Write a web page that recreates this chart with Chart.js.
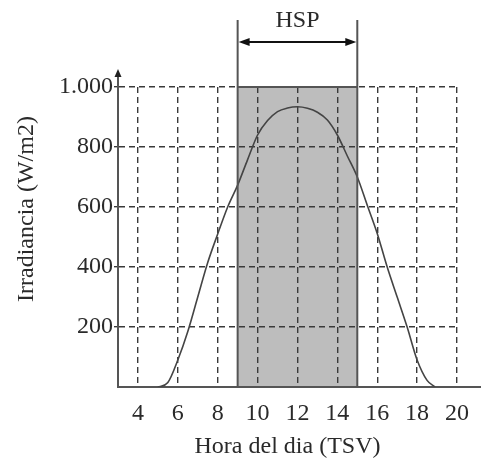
<!DOCTYPE html>
<html><head><meta charset="utf-8">
<script src="https://cdn.jsdelivr.net/npm/chart.js@4"></script>
<style>html,body{margin:0;padding:0;background:#fff}#wrap{width:481px;height:462px}</style>
</head><body><div id="wrap"><canvas id="c" width="481" height="462"></canvas></div>
<script>
const hours = [5, 5.5, 6, 6.5, 7, 7.5, 8, 8.5, 9, 9.5, 10, 10.5, 11, 11.5, 12, 12.5, 13, 13.5, 14, 14.5, 15, 15.5, 16, 16.5, 17, 17.5, 18, 18.5, 18.9];
const irradiance = [0, 15, 90, 185, 300, 415, 510, 600, 673, 758, 840, 888, 918, 930, 934, 929, 916, 890, 840, 770, 700, 606, 512, 400, 300, 200, 90, 22, 0];
const xTicks = [4, 6, 8, 10, 12, 14, 16, 18, 20];
const yTicks = [200, 400, 600, 800, 1000];
const yTickLabels = ['200', '400', '600', '800', '1.000'];
const hspRange = [9, 15];
const hspLabel = 'HSP';
const xTitle = 'Hora del dia (TSV)';
const yTitle = 'Irradiancia (W/m2)';

const FONT = {family: '"Liberation Serif", "Times New Roman", serif', size: 24};
const TXT = '#2a2a2a';
const GRID = '#3a3a3a';
const AXIS = '#555';

const decor = {
  id: 'decor',
  beforeDraw(chart) {
    const {ctx, scales: {x, y}} = chart;
    const x1 = x.getPixelForValue(hspRange[0]), x2 = x.getPixelForValue(hspRange[1]);
    const yt = y.getPixelForValue(1000), yb = y.getPixelForValue(0);
    ctx.save();
    ctx.fillStyle = '#fff';
    ctx.fillRect(0, 0, chart.width, chart.height);
    ctx.fillStyle = '#bdbdbd';
    ctx.fillRect(x1, yt, x2 - x1, yb - yt);
    ctx.restore();
  },
  afterDraw(chart) {
    const {ctx, chartArea, scales: {x, y}} = chart;
    const x1 = x.getPixelForValue(hspRange[0]), x2 = x.getPixelForValue(hspRange[1]);
    const yt = y.getPixelForValue(1000), yb = y.getPixelForValue(0);
    ctx.save();
    // box outline and extension lines
    ctx.strokeStyle = '#555';
    ctx.lineWidth = 2;
    ctx.beginPath();
    ctx.moveTo(x1, yt - 67); ctx.lineTo(x1, yb);
    ctx.moveTo(x2, yt - 67); ctx.lineTo(x2, yb);
    ctx.moveTo(x1, yt); ctx.lineTo(x2, yt);
    ctx.stroke();
    // double arrow
    const ay = yt - 45;
    ctx.strokeStyle = '#111'; ctx.fillStyle = '#111'; ctx.lineWidth = 2;
    ctx.beginPath(); ctx.moveTo(x1 + 8, ay); ctx.lineTo(x2 - 8, ay); ctx.stroke();
    ctx.beginPath(); ctx.moveTo(x1 + 1, ay); ctx.lineTo(x1 + 12, ay - 4); ctx.lineTo(x1 + 12, ay + 4); ctx.closePath(); ctx.fill();
    ctx.beginPath(); ctx.moveTo(x2 - 1, ay); ctx.lineTo(x2 - 12, ay - 4); ctx.lineTo(x2 - 12, ay + 4); ctx.closePath(); ctx.fill();
    // HSP label
    ctx.font = `${FONT.size}px ${FONT.family}`;
    ctx.fillStyle = TXT; ctx.textAlign = 'center'; ctx.textBaseline = 'alphabetic';
    ctx.fillText(hspLabel, (x1 + x2) / 2, yt - 60);
    // y axis title
    ctx.save();
    ctx.translate(33, (yt + yb) / 2 - 28);
    ctx.rotate(-Math.PI / 2);
    ctx.textAlign = 'center'; ctx.textBaseline = 'alphabetic';
    ctx.fillText(yTitle, 0, 0);
    ctx.restore();
    // axis extensions + arrow on y axis
    ctx.strokeStyle = AXIS; ctx.lineWidth = 2;
    ctx.beginPath();
    ctx.moveTo(chartArea.left, yt); ctx.lineTo(chartArea.left, yt - 14);
    ctx.moveTo(chartArea.right, yb); ctx.lineTo(chart.width, yb);
    ctx.stroke();
    ctx.fillStyle = '#222';
    ctx.beginPath();
    ctx.moveTo(chartArea.left, yt - 18);
    ctx.lineTo(chartArea.left - 3.5, yt - 10);
    ctx.lineTo(chartArea.left + 3.5, yt - 10);
    ctx.closePath(); ctx.fill();
    ctx.restore();
  }
};

new Chart(document.getElementById('c'), {
  type: 'line',
  data: {
    datasets: [{
      data: hours.map((h, i) => ({x: h, y: irradiance[i]})),
      borderColor: '#444',
      borderWidth: 1.6,
      pointRadius: 0,
      fill: false,
      tension: 0.4,
      cubicInterpolationMode: 'monotone'
    }]
  },
  options: {
    responsive: false,
    animation: false,
    devicePixelRatio: 1,
    layout: {padding: {top: 87, right: 23, left: 0, bottom: 0}},
    plugins: {legend: {display: false}, tooltip: {enabled: false}},
    scales: {
      x: {
        type: 'linear', min: 3, max: 20,
        afterBuildTicks: s => { s.ticks = xTicks.map(v => ({value: v})); },
        afterFit: s => { s.height = 75; },
        ticks: {font: FONT, color: TXT, padding: 12, maxRotation: 0, autoSkip: false, callback: v => String(v)},
        grid: {color: GRID, lineWidth: 1.4, drawTicks: false},
        border: {display: true, color: AXIS, width: 2, dash: [6, 4]},
        title: {display: true, text: xTitle, font: FONT, color: TXT, padding: {top: 0, bottom: 1}}
      },
      y: {
        type: 'linear', min: 0, max: 1000,
        afterBuildTicks: s => { s.ticks = yTicks.map(v => ({value: v})); },
        afterFit: s => { s.width = 118; },
        ticks: {font: FONT, color: TXT, padding: 1, autoSkip: false, callback: v => yTickLabels[yTicks.indexOf(v)]},
        grid: {color: GRID, lineWidth: 1.4, drawTicks: true, tickLength: 4, tickColor: GRID},
        border: {display: true, color: AXIS, width: 2, dash: [6, 4]},
        title: {display: false}
      }
    }
  },
  plugins: [decor]
});
</script>
</body></html>
